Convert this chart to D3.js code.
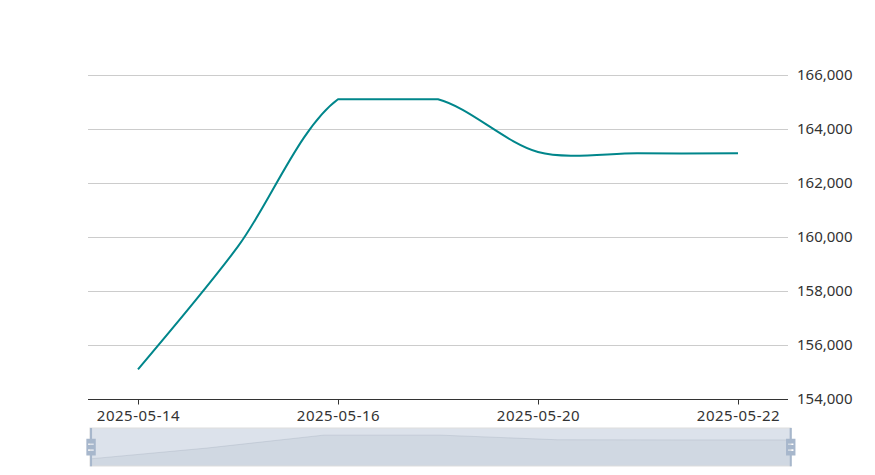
<!DOCTYPE html>
<html><head><meta charset="utf-8">
<script src="https://cdn.jsdelivr.net/npm/d3@7/dist/d3.min.js"></script>
<style>
body{margin:0;background:#fff}
svg{display:block}
text{font-family:"Noto Sans",sans-serif;fill:#333}
</style>
</head><body>
<svg id="chart" width="875" height="475"></svg>
<script>
// ---- data ----
const categories = ['2025-05-14','2025-05-15','2025-05-16','2025-05-19','2025-05-20','2025-05-21','2025-05-22'];
const values = [155100, 159650, 165100, 165100, 163150, 163100, 163100];
const yTickValues = [154000, 156000, 158000, 160000, 162000, 164000, 166000];
const xTickLabels = ['2025-05-14','2025-05-16','2025-05-20','2025-05-22'];

// ---- layout ----
const grid = {left: 88, right: 788, top: 75, bottom: 399};
const slider = {left: 90, right: 791, top: 428, bottom: 466};
const lineColor = '#00868b';
const smoothness = 0.3;

const svg = d3.select('#chart');

const xBand = d3.scaleBand().domain(categories).range([grid.left, grid.right]).padding(0);
const xc = c => xBand(c) + xBand.bandwidth() / 2;
const y = d3.scaleLinear().domain([154000, 166000]).range([grid.bottom, grid.top]);

// ECharts-4 style smooth bezier with global bounding-box constraint
function smoothPath(pts, smooth) {
  const minX = d3.min(pts, p => p[0]), maxX = d3.max(pts, p => p[0]);
  const minY = d3.min(pts, p => p[1]), maxY = d3.max(pts, p => p[1]);
  const clamp = p => [Math.min(Math.max(p[0], minX), maxX), Math.min(Math.max(p[1], minY), maxY)];
  const before = [], after = [];
  pts.forEach((p, i) => {
    if (i === 0 || i === pts.length - 1) { before.push(p); after.push(p); return; }
    const pr = pts[i - 1], nx = pts[i + 1];
    const vx = (nx[0] - pr[0]) * smooth, vy = (nx[1] - pr[1]) * smooth;
    let d0 = Math.hypot(p[0] - pr[0], p[1] - pr[1]);
    let d1 = Math.hypot(p[0] - nx[0], p[1] - nx[1]);
    const s = d0 + d1; if (s) { d0 /= s; d1 /= s; }
    before.push(clamp([p[0] - vx * d0, p[1] - vy * d0]));
    after.push(clamp([p[0] + vx * d1, p[1] + vy * d1]));
  });
  let d = `M${pts[0][0]},${pts[0][1]}`;
  for (let i = 0; i < pts.length - 1; i++) {
    const a = after[i], b = before[i + 1], p = pts[i + 1];
    d += `C${a[0]},${a[1]},${b[0]},${b[1]},${p[0]},${p[1]}`;
  }
  return d;
}

// grid lines
svg.append('g').selectAll('line').data(yTickValues.filter(v => v !== 154000)).join('line')
  .attr('x1', grid.left).attr('x2', grid.right)
  .attr('y1', d => Math.round(y(d)) + 0.5).attr('y2', d => Math.round(y(d)) + 0.5)
  .attr('stroke', '#ccc').attr('stroke-width', 1);

// y axis (right)
const yAxis = d3.axisRight(y).tickValues(yTickValues).tickSize(0).tickPadding(9)
  .tickFormat(d3.format(','));
const gy = svg.append('g').attr('transform', `translate(${grid.right},0)`).call(yAxis);
gy.select('.domain').remove();
gy.selectAll('text').style('font-size', '15px').attr('fill', '#333');

// x axis
const xPoint = d3.scalePoint().domain(categories).range([xc(categories[0]), xc(categories[categories.length - 1])]);
const xAxis = d3.axisBottom(xPoint).tickValues(xTickLabels).tickSize(5).tickSizeOuter(0).tickPadding(6);
const gx = svg.append('g').attr('transform', `translate(0,${grid.bottom + 0.5})`).call(xAxis);
gx.select('.domain').attr('d', `M${grid.left},0H${grid.right}`).attr('stroke', '#333');
gx.selectAll('.tick line').attr('stroke', '#333');
gx.selectAll('text').style('font-size', '15px').style('letter-spacing', '0.5px').attr('fill', '#333');

// line
const pts = categories.map((c, i) => [xc(c), y(values[i])]);
svg.append('path').attr('d', smoothPath(pts, smoothness))
  .attr('fill', 'none').attr('stroke', lineColor).attr('stroke-width', 2)
  .attr('stroke-linejoin', 'round');

// ---- dataZoom slider ----
const ext = d3.extent(values);
const off = (ext[1] - ext[0]) * 0.3;
const sx = d3.scalePoint().domain(categories).range([slider.left, slider.right]);
const sy = d3.scaleLinear().domain([ext[0] - off, ext[1] + off]).range([slider.bottom, slider.top]);
const sPts = categories.map((c, i) => [sx(c), sy(values[i])]);
const gz = svg.append('g');
gz.append('path')
  .attr('d', d3.area().x(d => d[0]).y0(slider.bottom).y1(d => d[1])(sPts))
  .attr('fill', 'rgb(47,69,84)').attr('fill-opacity', 0.09);
gz.append('path')
  .attr('d', d3.line().x(d => d[0]).y(d => d[1])(sPts))
  .attr('fill', 'none').attr('stroke', '#2f4554').attr('stroke-width', 0.5).attr('stroke-opacity', 0.3);
gz.append('rect')
  .attr('x', slider.left).attr('y', slider.top)
  .attr('width', slider.right - slider.left).attr('height', slider.bottom - slider.top)
  .attr('fill', 'rgba(167,183,204,0.4)').attr('stroke', '#ddd').attr('stroke-width', 1);

const handlePath = 'M8.2,13.6V3.9H6.3v9.7H3.1v14.9h3.3v9.7h1.8v-9.7h3.3V13.6H8.2z M9.7,24.4H4.8v-1.4h4.9V24.4z M9.7,19.1H4.8v-1.4h4.9V19.1z';
const hs = (slider.bottom - slider.top) / 34;
[slider.left + 1, slider.right - 0.3].forEach(hx => {
  gz.append('path').attr('d', handlePath).attr('fill-rule', 'evenodd')
    .attr('fill', '#a7b7cc')
    .attr('transform', `translate(${hx - 7.25 * hs},${slider.top - 3.9 * hs}) scale(${hs})`);
});
</script>
</body></html>
